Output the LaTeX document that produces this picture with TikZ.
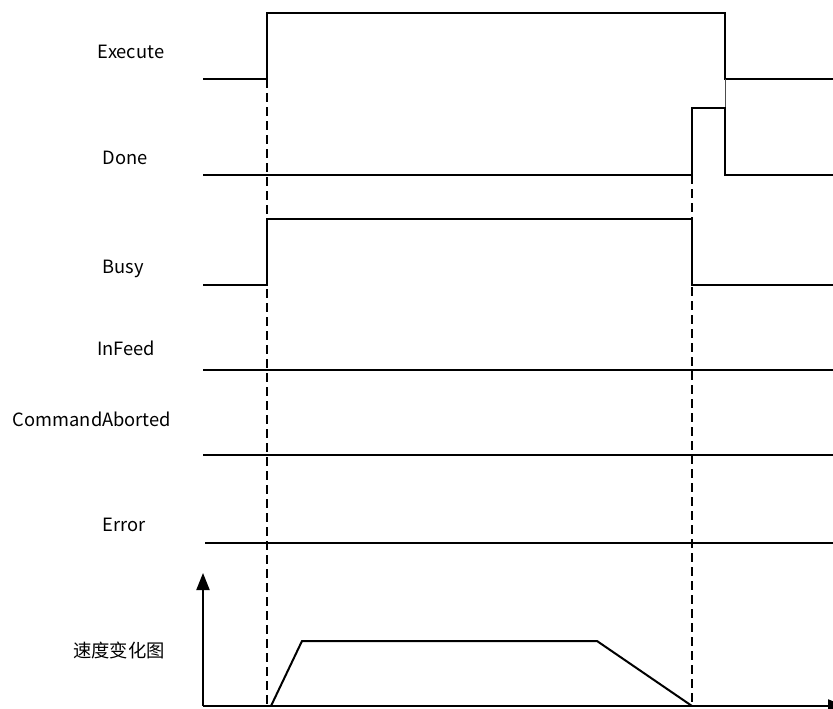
\documentclass[tikz,border=0pt]{standalone}
\usepackage{fontspec}
\setmainfont{Noto Sans CJK SC}
\usetikzlibrary{arrows.meta}
\begin{document}
\begin{tikzpicture}[x=1pt,y=-1pt,
  sig/.style={line width=2pt,line join=miter},
  thin/.style={line width=0.9pt,black!70},
  guide/.style={line width=2pt,dash pattern=on 9pt off 5pt},
  lbl/.style={font=\fontsize{18.3}{21}\selectfont,inner sep=0pt},
  axis/.style={line width=2pt,-{Triangle[length=17pt,width=13pt]}}]
\useasboundingbox (0,0) rectangle (833,709);
% labels
\node[lbl] (lExec) at (131,52) {Execute};
\node[lbl] (lDone) at (125,158) {Done};
\node[lbl] (lBusy) at (123,269) {Busy};
\node[lbl] (lInF) at (126,348) {InFeed};
\node[lbl] (lCA) at (92,419) {CommandAborted};
\node[lbl] (lErr) at (124,525) {Error};
\node[lbl] (lVel) at (119,650) {速度变化图};
% guides
\coordinate (g1t) at (267,79);
\coordinate (g1b) at (267,706);
\coordinate (g2t) at (692,175);
\coordinate (g2b) at (692,706);
\draw[guide] (g1t) -- (g1b);
\draw[guide] (g2t) -- (g2b);
% Execute
\draw[sig] (203,79) -- (267,79) -- (267,13) -- (725,13) -- (725,79) -- (833,79);
% thin connector
\draw[thin] (725,79) -- (725,108);
% Done
\draw[sig] (203,175) -- (692,175) -- (692,108) -- (725,108) -- (725,175) -- (833,175);
% Busy
\draw[sig] (203,285) -- (267,285) -- (267,219) -- (692,219) -- (692,285) -- (833,285);
% InFeed, CommandAborted, Error
\draw[sig] (203,370) -- (833,370);
\draw[sig] (203,455) -- (833,455);
\draw[sig] (205,543) -- (833,543);
% velocity axes
\coordinate (O) at (203,706);
\coordinate (Y) at (203,573);
\coordinate (X) at (845,706);
\draw[axis] (O) -- (Y);
\draw[axis] (O) -- (X);
% velocity profile
\draw[sig] (271,706) -- (302,641) -- (597,641) -- (692,706);
\end{tikzpicture}
\end{document}
